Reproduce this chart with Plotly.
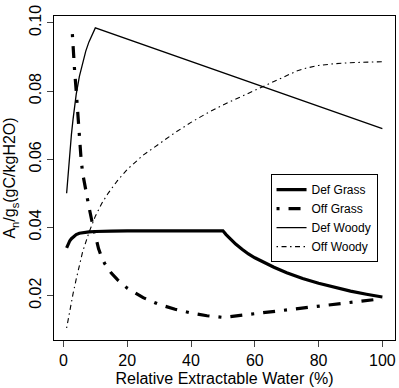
import plotly.graph_objects as go

# Def Grass (thick solid)
def_grass_x = [1, 1.5, 2, 2.5, 3, 3.5, 4, 5, 6, 7, 8, 10, 12, 15, 20, 30, 40, 50,
               51, 52, 54, 56, 58, 60, 63, 66, 70, 75, 80, 85, 90, 95, 100]
def_grass_y = [0.0340, 0.0352, 0.0361, 0.0367, 0.0372, 0.0376, 0.0379, 0.0383, 0.0385, 0.0386, 0.0387, 0.0388,
               0.0389, 0.0389, 0.0390, 0.0390, 0.0390, 0.0390,
               0.0379, 0.0369, 0.0351, 0.0336, 0.0322, 0.0311, 0.0296, 0.0283, 0.0267, 0.0250, 0.0236,
               0.0224, 0.0213, 0.0204, 0.0196]

# Off Grass (thick dot-dash)
off_grass_x = [2.8, 3, 3.5, 4, 4.5, 5, 5.5, 6, 7, 8, 9, 10, 11, 12, 13, 15, 17, 20, 25, 30, 35, 40, 45, 50,
               60, 70, 80, 90, 100]
off_grass_y = [0.0967, 0.0920, 0.0860, 0.0800, 0.0730, 0.0665, 0.0605, 0.0560, 0.0505, 0.0460, 0.0415, 0.0372,
               0.0338, 0.0312, 0.0293, 0.0266, 0.0246, 0.0222, 0.0194, 0.0174, 0.0160, 0.0149, 0.0141, 0.0136,
               0.0147, 0.0158, 0.0169, 0.0180, 0.0191]

# Def Woody (thin solid)
def_woody_x = [1, 1.5, 2, 2.5, 3, 3.5, 4, 5, 6, 7, 8, 9, 10, 100]
def_woody_y = [0.0500, 0.0565, 0.0622, 0.0672, 0.0716, 0.0756, 0.0790, 0.0843, 0.0884, 0.0917, 0.0944, 0.0966,
               0.0985, 0.0690]

# Off Woody (thin dot-dash)
off_woody_x = [1, 2, 3, 4, 5, 6, 8, 10, 12, 14, 17, 20, 25, 30, 35, 40, 45, 50, 55, 60, 65, 70, 73, 76,
               80, 85, 90, 100]
off_woody_y = [0.0105, 0.0158, 0.0205, 0.0248, 0.0290, 0.0328, 0.0385, 0.0433, 0.0470, 0.0500, 0.0538, 0.0570,
               0.0612, 0.0646, 0.0678, 0.0708, 0.0735, 0.0759, 0.0781, 0.0803, 0.0825, 0.0847, 0.0858, 0.0867,
               0.0875, 0.0880, 0.0883, 0.0886]

x_ticks = [0, 20, 40, 60, 80, 100]
y_ticks = [0.02, 0.04, 0.06, 0.08, 0.10]

FONT = "Liberation Sans, Arial, sans-serif"

fig = go.Figure()
fig.add_trace(go.Scatter(x=def_grass_x, y=def_grass_y, mode="lines", name="Def Grass",
                         line=dict(color="black", width=3.2)))
fig.add_trace(go.Scatter(x=off_grass_x, y=off_grass_y, mode="lines", name="Off Grass",
                         line=dict(color="black", width=3.2, dash="3px,9px,12px,9px")))
fig.add_trace(go.Scatter(x=def_woody_x, y=def_woody_y, mode="lines", name="Def Woody",
                         line=dict(color="black", width=1.3)))
fig.add_trace(go.Scatter(x=off_woody_x, y=off_woody_y, mode="lines", name="Off Woody",
                         line=dict(color="black", width=1.1, dash="1.5px,3.5px,5px,3.5px")))

fig.update_layout(
    width=399, height=388,
    margin=dict(l=54, r=4, t=16, b=48),
    paper_bgcolor="white", plot_bgcolor="white",
    font=dict(family=FONT, size=16, color="black"),
    showlegend=True,
    legend=dict(x=0.635, y=0.512, xanchor="left", yanchor="top",
                bgcolor="white", bordercolor="black", borderwidth=1,
                font=dict(size=12), tracegroupgap=0, itemwidth=30),
)
fig.update_xaxes(range=[-2.96, 103.96], tickvals=x_ticks, ticks="outside", ticklen=6,
                 showline=True, linecolor="black", linewidth=1, mirror=True,
                 showgrid=False, zeroline=False,
                 title=dict(text="Relative Extractable Water (%)", standoff=4, font=dict(size=16)))
fig.update_yaxes(range=[0.00698, 0.1020], tickvals=y_ticks, tickformat=".2f", tickangle=-90,
                 ticks="outside", ticklen=6,
                 showline=True, linecolor="black", linewidth=1, mirror=True,
                 showgrid=False, zeroline=False,
                 title=dict(text="A<sub>n</sub>/g<sub>s</sub>(gC/kgH2O)", standoff=6, font=dict(size=16)))

fig.write_html("out.html")
